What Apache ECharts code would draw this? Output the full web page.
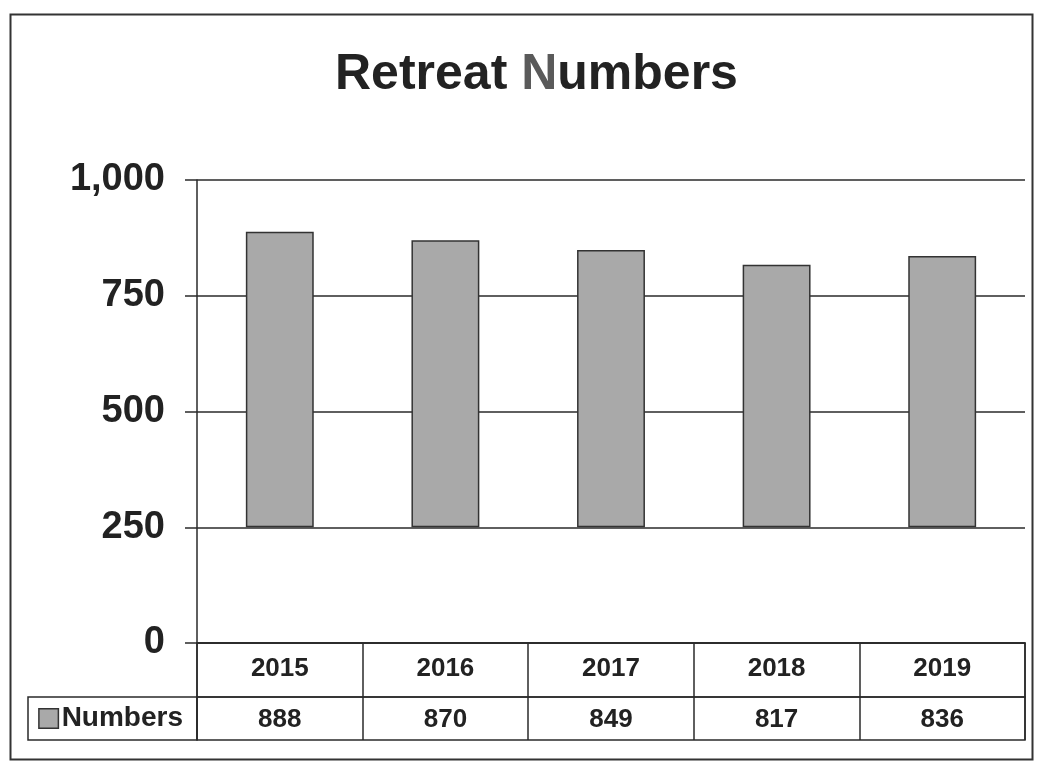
<!DOCTYPE html>
<html><head><meta charset="utf-8">
<script src="https://cdn.jsdelivr.net/npm/echarts@6/dist/echarts.min.js"></script>
<style>html,body{margin:0;padding:0;background:#fff}#c{width:1037px;height:761px}</style>
</head><body><div id="c"></div>
<script>
const categories = ['2015', '2016', '2017', '2018', '2019'];
const values = [888, 870, 849, 817, 836];
const yTicks = [0, 250, 500, 750, 1000];
const baseValue = 250;
const seriesName = 'Numbers';

const FONT = '"Liberation Sans", Arial, sans-serif';
const INK = '#222';
const LINE = '#2a2a2a';

const chart = echarts.init(document.getElementById('c'));
chart.setOption({
  animation: false,
  backgroundColor: '#fff',
  textStyle: { fontFamily: FONT },
  title: {
    text: 'Retreat {n|N}umbers',
    left: 330,
    top: 45,
    textStyle: {
      fontFamily: FONT, fontSize: 50, fontWeight: 'bold', color: INK,
      rich: { n: { fontFamily: FONT, fontSize: 50, fontWeight: 'bold', color: '#5a5a5a' } }
    }
  },
  graphic: [{
    type: 'rect', left: 8, top: 12,
    shape: { width: 1022, height: 745 },
    style: { fill: 'none', stroke: '#333', lineWidth: 2 }
  }],
  grid: [
    { left: 197, right: 12, top: 180, height: 463 },
    { left: 197, right: 12, top: 643, height: 54, show: true, borderColor: LINE, borderWidth: 1.5, backgroundColor: 'transparent' },
    { left: 197, right: 12, top: 697, height: 43, show: true, borderColor: LINE, borderWidth: 1.5, backgroundColor: 'transparent' }
  ],
  xAxis: [
    { type: 'category', gridIndex: 0, data: categories,
      axisLine: { show: true, lineStyle: { color: LINE, width: 1.5 } },
      axisTick: { show: false }, axisLabel: { show: false }, splitLine: { show: false } },
    { type: 'category', gridIndex: 1, data: categories,
      axisLine: { show: false }, axisTick: { show: false },
      axisLabel: { inside: true, margin: 15, fontSize: 26, fontWeight: 'bold', color: INK, fontFamily: FONT },
      splitLine: { show: true, lineStyle: { color: LINE, width: 1.5 } } },
    { type: 'category', gridIndex: 2, data: categories, position: 'top',
      axisLine: { show: false }, axisTick: { show: false },
      axisLabel: { inside: true, margin: 10, fontSize: 26, fontWeight: 'bold', color: INK, fontFamily: FONT,
        formatter: (v, i) => String(values[i]) },
      splitLine: { show: true, lineStyle: { color: LINE, width: 1.5 } } }
  ],
  yAxis: [
    { type: 'value', gridIndex: 0, min: 0, max: 1000, interval: 250,
      axisLine: { show: true, lineStyle: { color: LINE, width: 1.5 } },
      axisTick: { show: true, length: 12, lineStyle: { color: LINE, width: 1.5 } },
      axisLabel: { margin: 32, fontSize: 38, fontWeight: 'bold', color: INK, fontFamily: FONT,
        formatter: v => v.toLocaleString('en-US') },
      splitLine: { show: true, lineStyle: { color: LINE, width: 1.5 } } },
    { type: 'value', gridIndex: 1, show: false },
    { type: 'category', gridIndex: 2, data: [seriesName],
      axisLine: { show: false }, axisTick: { show: false }, splitLine: { show: false },
      axisLabel: {
        margin: 0,
        formatter: v => '{box|}{t|' + v + '}',
        width: 155, height: 43, padding: [0, 14, 0, 0],
        borderColor: LINE, borderWidth: 1.5, lineHeight: 43,
        rich: {
          box: { width: 18, height: 18, backgroundColor: '#a9a9a9', borderColor: '#333', borderWidth: 1.5 },
          t: { fontSize: 28, fontWeight: 'bold', color: INK, fontFamily: FONT, padding: [0, 0, 0, 4] }
        }
      } }
  ],
  series: [
    { name: 'base', type: 'bar', stack: 'b', xAxisIndex: 0, yAxisIndex: 0,
      data: values.map(() => baseValue), barWidth: '41%',
      itemStyle: { color: 'transparent' }, silent: true },
    { name: seriesName, type: 'bar', stack: 'b', xAxisIndex: 0, yAxisIndex: 0,
      data: values.map(v => v - baseValue), barWidth: '41%',
      itemStyle: { color: '#a9a9a9', borderColor: '#333', borderWidth: 1.5 } }
  ]
});
</script></body></html>
